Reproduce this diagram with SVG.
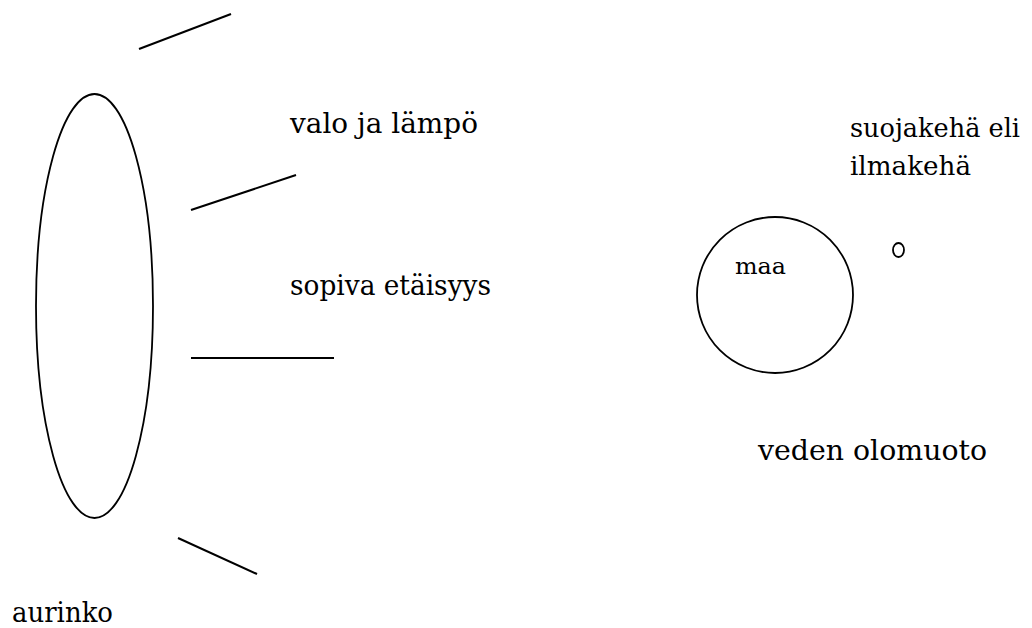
<svg xmlns="http://www.w3.org/2000/svg" width="1032" height="628" viewBox="0 0 1032 628">
  <style>
    .shape { fill: none; stroke: #000; stroke-width: 1.8; }
    .ray { stroke: #000; stroke-width: 2; stroke-linecap: butt; }
    .label { font-family: "DejaVu Serif", "Liberation Serif", serif; font-size: 28px; fill: #000; }
    .small { font-size: 23px; }
    .edge { font-size: 26px; }
  </style>
  <rect width="1032" height="628" fill="#fff"/>

  <!-- sun -->
  <g id="aurinko">
    <ellipse class="shape" cx="94.5" cy="306" rx="58.5" ry="212"/>
    <text class="label" x="12" y="622" textLength="101" lengthAdjust="spacingAndGlyphs">aurinko</text>
  </g>

  <!-- rays from the sun -->
  <g id="rays">
    <line class="ray" x1="139" y1="49" x2="231" y2="14"/>
    <line class="ray" x1="191" y1="210" x2="296" y2="175"/>
    <line class="ray" x1="191" y1="358" x2="334" y2="358"/>
    <line class="ray" x1="178" y1="538" x2="257" y2="574"/>
  </g>

  <g id="valo">
    <text class="label" x="290" y="133" textLength="188" lengthAdjust="spacingAndGlyphs">valo ja lämpö</text>
  </g>
  <g id="etaisyys">
    <text class="label" x="290" y="295" textLength="201" lengthAdjust="spacingAndGlyphs">sopiva etäisyys</text>
  </g>

  <!-- earth -->
  <g id="maa">
    <circle class="shape" cx="775" cy="295" r="78"/>
    <text class="label small" x="735" y="274" textLength="51" lengthAdjust="spacingAndGlyphs">maa</text>
  </g>

  <!-- moon -->
  <g id="kuu">
    <ellipse class="shape" cx="898.5" cy="250" rx="5.5" ry="7" stroke-width="1.6"/>
  </g>

  <g id="ilmakeha">
    <text class="label edge" x="850" y="137" textLength="170" lengthAdjust="spacingAndGlyphs">suojakehä eli</text>
    <text class="label edge" x="850" y="175" textLength="121" lengthAdjust="spacingAndGlyphs">ilmakehä</text>
  </g>

  <g id="vesi">
    <text class="label" x="758" y="460" textLength="229" lengthAdjust="spacingAndGlyphs">veden olomuoto</text>
  </g>
</svg>
